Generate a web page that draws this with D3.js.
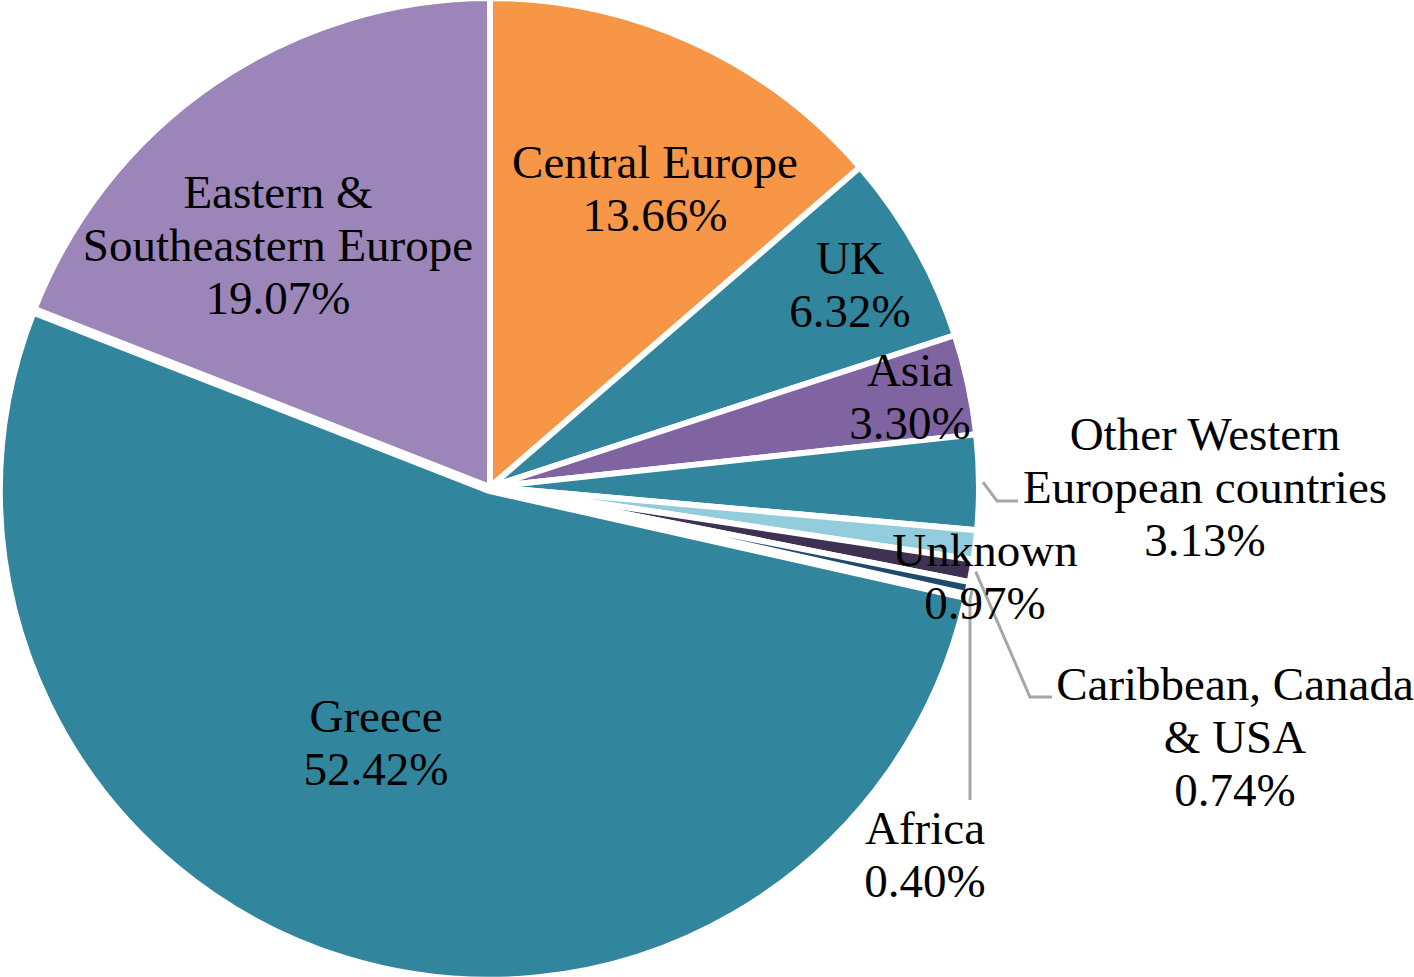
<!DOCTYPE html>
<html>
<head>
<meta charset="utf-8">
<script src="https://cdn.jsdelivr.net/npm/d3@7"></script>
<style>
  html, body { margin: 0; padding: 0; background: #ffffff; }
  svg { display: block; }
  text { font-family: "Liberation Serif", "Times New Roman", serif; }
</style>
</head>
<body>
<svg id="chart" width="1414" height="977"></svg>
<script>
// ---- data ----
const categories = ["Central Europe", "UK", "Asia", "Other Western European countries",
  "Unknown", "Caribbean, Canada & USA", "Africa", "Greece", "Eastern & Southeastern Europe"];
const values = [13.66, 6.32, 3.30, 3.13, 0.97, 0.74, 0.40, 52.42, 19.07];
const labelLines = [
  ["Central Europe", "13.66%"],
  ["UK", "6.32%"],
  ["Asia", "3.30%"],
  ["Other Western", "European countries", "3.13%"],
  ["Unknown", "0.97%"],
  ["Caribbean, Canada", "& USA", "0.74%"],
  ["Africa", "0.40%"],
  ["Greece", "52.42%"],
  ["Eastern &", "Southeastern Europe", "19.07%"]
];
const colors = ["#F79646", "#31859C", "#8064A2", "#31859C", "#93CDDD",
  "#3F3151", "#1F4A6E", "#31859C", "#9B85B9"];

// ---- layout ----
const cx = 490, cy = 487, R = 489;
const explode = [0, 0, 0, 0, 0, 0, 0, 4, 0];
// label centre (x, y of first line centre)
const labelPos = [[655, 162], [850, 258], [910, 370], [1205, 434], [985, 550],
  [1235, 684], [925, 828], [376, 716], [278, 192]];
const lineH = 53;
// leader lines (outer bend points after slice anchor) for small slices
const leaders = {
  3: [[997, 501], [1018, 501]],
  5: [[1030, 697], [1052, 697]],
  6: [[970, 600], [970, 800]]
};

const svg = d3.select("#chart");
const pie = d3.pie().sort(null).value(d => d)(values);
const arc = d3.arc().innerRadius(0).outerRadius(R);
const g = svg.append("g").attr("transform", `translate(${cx},${cy})`);

g.selectAll("path.slice").data(pie).enter().append("path")
  .attr("class", "slice")
  .attr("d", arc)
  .attr("fill", (d, i) => colors[i])
  .attr("stroke", "#ffffff")
  .attr("stroke-width", 6)
  .attr("stroke-linejoin", "miter")
  .attr("transform", (d, i) => {
    const a = (d.startAngle + d.endAngle) / 2;
    return `translate(${explode[i] * Math.sin(a)},${-explode[i] * Math.cos(a)})`;
  });

// leader lines
const anchorArc = d3.arc().innerRadius(R + 4).outerRadius(R + 4);
Object.keys(leaders).forEach(k => {
  const i = +k;
  const c = anchorArc.centroid(pie[i]);
  const pts = [[c[0] + cx, c[1] + cy]].concat(leaders[k]);
  svg.append("path")
    .attr("d", d3.line()(pts))
    .attr("fill", "none")
    .attr("stroke", "#A6A6A6")
    .attr("stroke-width", 3);
});

// labels
labelLines.forEach((lines, i) => {
  const t = svg.append("text")
    .attr("text-anchor", "middle")
    .attr("font-size", 47)
    .attr("fill", "#000000");
  lines.forEach((ln, j) => {
    t.append("tspan")
      .attr("x", labelPos[i][0])
      .attr("y", labelPos[i][1] + j * lineH)
      .attr("dy", "0.35em")
      .text(ln);
  });
});
</script>
</body>
</html>
